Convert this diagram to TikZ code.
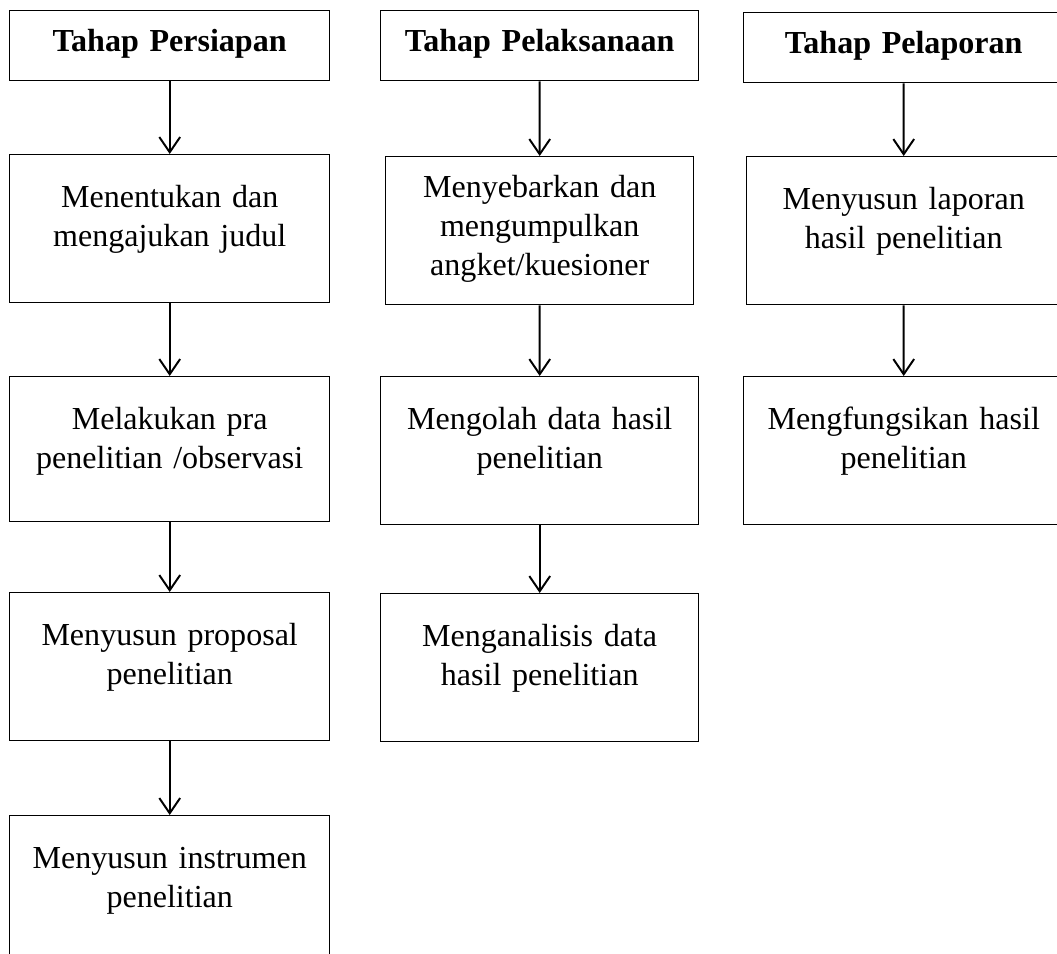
\documentclass[tikz,border=0pt]{standalone}
\usepackage{fontspec}
\setmainfont{Liberation Serif}
\usetikzlibrary{arrows.meta}

\tikzset{
  headbox/.style={draw, line width=0.5pt, anchor=north west, inner sep=0pt,
    align=center, text width=40mm, text height=5.125mm, text depth=3.625mm,
    font=\fontsize{11.4pt}{13.9pt}\selectfont\bfseries},
  stagebox/.style={draw, line width=0.5pt, anchor=north west, inner sep=0pt,
    align=center, text width=40mm, text height=6.625mm, text depth=11.875mm,
    font=\fontsize{11.4pt}{13.9pt}\selectfont},
}

\begin{document}
\begin{tikzpicture}[x=0.125mm, y=-0.125mm,
  >={Straight Barb[length=1.9mm,width=2.6mm]}]
\path[use as bounding box, clip] (0,0) rectangle (1057,954);
% tahap persiapan
\node[headbox] (h1) at (9,10) {Tahap Persiapan};
\node[stagebox] (b11) at (9,154) {Menentukan dan\\mengajukan judul};
\node[stagebox, text depth=11.5mm] (b12) at (9,376) {Melakukan pra\\penelitian /observasi};
\node[stagebox] (b13) at (9,592) {Menyusun proposal\\penelitian};
\node[stagebox, text depth=25mm] (b14) at (9,815) {Menyusun instrumen\\penelitian};
% tahap pelaksanaan
\node[headbox, text width=39.75mm] (h2) at (380,10) {Tahap Pelaksanaan};
\node[stagebox, text width=38.5mm, text height=5.125mm, text depth=13.375mm] (b21) at (385,156)
{Menyebarkan dan\\mengumpulkan\\angket/kuesioner};
\node[stagebox, text width=39.75mm] (b22) at (380,376) {Mengolah data hasil\\penelitian};
\node[stagebox, text width=39.75mm] (b23) at (380,593) {Menganalisis data\\hasil penelitian};
% tahap pelaporan
\node[headbox] (h3) at (743,12) {Tahap Pelaporan};
\node[stagebox, text width=39.25mm] (b31) at (746,156) {Menyusun laporan\\hasil penelitian};
\node[stagebox] (b32) at (743,376) {Mengfungsikan hasil\\penelitian};
\draw[->, line width=0.7pt] (h1.south) -- (b11.north);
\draw[->, line width=0.7pt] (b11.south) -- (b12.north);
\draw[->, line width=0.7pt] (b12.south) -- (b13.north);
\draw[->, line width=0.7pt] (b13.south) -- (b14.north);
\draw[->, line width=0.7pt] (h2.south) -- (b21.north);
\draw[->, line width=0.7pt] (b21.south) -- (b22.north);
\draw[->, line width=0.7pt] (b22.south) -- (b23.north);
\draw[->, line width=0.7pt] (h3.south) -- (b31.north);
\draw[->, line width=0.7pt] (b31.south) -- (b32.north);
\end{tikzpicture}
\end{document}
